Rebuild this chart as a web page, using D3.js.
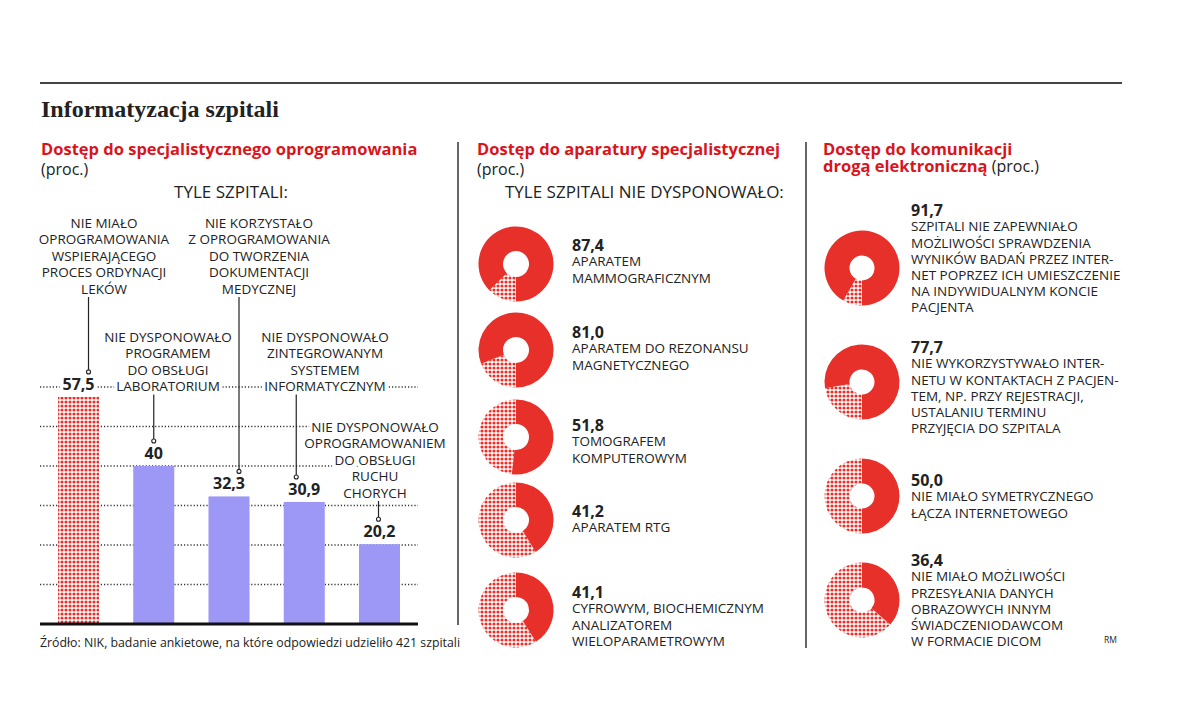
<!DOCTYPE html>
<html>
<head>
<meta charset="utf-8">
<script src="https://cdn.jsdelivr.net/npm/d3@7"></script>
<style>
    body { margin: 0; background: #fff; }
    text { font-family: "Open Sans", sans-serif; fill: #222; }
</style>
</head>
<body>
<div id="chart"></div>
<script>
const width = 1200;
const height = 720;

// bar chart: software
const barValues = [57.5, 40, 32.3, 30.9, 20.2];
const barLabels = ["57,5", "40", "32,3", "30,9", "20,2"];
const barNotes = [
    ["NIE MIAŁO", "OPROGRAMOWANIA", "WSPIERAJĄCEGO", "PROCES ORDYNACJI", "LEKÓW"],
    ["NIE DYSPONOWAŁO", "PROGRAMEM", "DO OBSŁUGI", "LABORATORIUM"],
    ["NIE KORZYSTAŁO", "Z OPROGRAMOWANIA", "DO TWORZENIA", "DOKUMENTACJI", "MEDYCZNEJ"],
    ["NIE DYSPONOWAŁO", "ZINTEGROWANYM", "SYSTEMEM", "INFORMATYCZNYM"],
    ["NIE DYSPONOWAŁO", "OPROGRAMOWANIEM", "DO OBSŁUGI", "RUCHU", "CHORYCH"]
];
const gridTicks = [10, 20, 30, 40, 50, 60];

// donuts: equipment
const equipValues = [87.4, 81.0, 51.8, 41.2, 41.1];
const equipLabels = [
    ["APARATEM", "MAMMOGRAFICZNYM"],
    ["APARATEM DO REZONANSU", "MAGNETYCZNEGO"],
    ["TOMOGRAFEM", "KOMPUTEROWYM"],
    ["APARATEM RTG"],
    ["CYFROWYM, BIOCHEMICZNYM", "ANALIZATOREM", "WIELOPARAMETROWYM"]
];

// donuts: electronic communication
const commValues = [91.7, 77.7, 50.0, 36.4];
const commLabels = [
    ["SZPITALI NIE ZAPEWNIAŁO", "MOŻLIWOŚCI SPRAWDZENIA", "WYNIKÓW BADAŃ PRZEZ INTER-", "NET POPRZEZ ICH UMIESZCZENIE", "NA INDYWIDUALNYM KONCIE", "PACJENTA"],
    ["NIE WYKORZYSTYWAŁO INTER-", "NETU W KONTAKTACH Z PACJEN-", "TEM, NP. PRZY REJESTRACJI,", "USTALANIU TERMINU", "PRZYJĘCIA DO SZPITALA"],
    ["NIE MIAŁO SYMETRYCZNEGO", "ŁĄCZA INTERNETOWEGO"],
    ["NIE MIAŁO MOŻLIWOŚCI", "PRZESYŁANIA DANYCH", "OBRAZOWYCH INNYM", "ŚWIADCZENIODAWCOM", "W FORMACIE DICOM"]
];

const red = "#e8302a";
const titleRed = "#d9151b";
const purple = "#9d97f5";
const ink = "#222";

// layout of the annotation blocks (centre x, first row y, leader offset from bar centre)
const noteLayout = [
    { cx: 104, top: 223, dx: 10 },
    { cx: 168, top: 337, dx: 0 },
    { cx: 259, top: 223, dx: 10 },
    { cx: 325, top: 337, dx: -8 },
    { cx: 375, top: 427, dx: -1 }
];

const svg = d3.select("#chart")
    .append("svg")
    .attr("width", width)
    .attr("height", height);

const defs = svg.append("defs");
const pat = defs.append("pattern")
    .attr("id", "dots")
    .attr("patternUnits", "userSpaceOnUse")
    .attr("width", 4)
    .attr("height", 4);
pat.append("rect").attr("width", 4).attr("height", 4).attr("fill", "#fff");
pat.append("circle").attr("cx", 2).attr("cy", 2).attr("r", 1.6).attr("fill", red);

// header
svg.append("line")
    .attr("x1", 40).attr("x2", 1122)
    .attr("y1", 83).attr("y2", 83)
    .attr("stroke", "#444").attr("stroke-width", 2);

svg.append("text")
    .attr("x", 41).attr("y", 117)
    .style("font-family", "'Liberation Serif', serif")
    .style("font-weight", "bold")
    .style("font-size", "24px")
    .text("Informatyzacja szpitali");

// column dividers
svg.append("line").attr("x1", 458).attr("x2", 458).attr("y1", 142).attr("y2", 625)
    .attr("stroke", "#333").attr("stroke-width", 1.5);
svg.append("line").attr("x1", 806).attr("x2", 806).attr("y1", 142).attr("y2", 648)
    .attr("stroke", "#333").attr("stroke-width", 1.5);

function subtitle(x, y, txt) {
    svg.append("text").attr("x", x).attr("y", y)
        .style("font-weight", "bold").style("font-size", "16.5px")
        .style("fill", titleRed).text(txt);
}

// ---- left column: bar chart
subtitle(41, 155, "Dostęp do specjalistycznego oprogramowania");
svg.append("text").attr("x", 41).attr("y", 175).style("font-size", "16px").text("(proc.)");
svg.append("text").attr("x", 231).attr("y", 198).attr("text-anchor", "middle")
    .style("font-size", "17px").text("TYLE SZPITALI:");

const x = d3.scaleBand()
    .domain(d3.range(barValues.length))
    .range([58, 400])
    .paddingInner(0.455)
    .paddingOuter(0);

const y = d3.scaleLinear()
    .domain([0, 60])
    .range([624, 387]);

const bars = svg.append("g");

bars.append("g")
    .selectAll("line")
    .data(gridTicks)
    .join("line")
    .attr("x1", 40).attr("x2", 418)
    .attr("y1", d => y(d)).attr("y2", d => y(d))
    .attr("stroke", "#333")
    .attr("stroke-width", 1.3)
    .attr("stroke-dasharray", "1.2 2");

bars.append("g")
    .selectAll("rect")
    .data(barValues)
    .join("rect")
    .attr("x", (d, i) => x(i))
    .attr("width", x.bandwidth())
    .attr("y", d => y(d))
    .attr("height", d => y(0) - y(d))
    .attr("fill", (d, i) => i === 0 ? "url(#dots)" : purple);

bars.append("line")
    .attr("x1", 40).attr("x2", 418)
    .attr("y1", y(0)).attr("y2", y(0))
    .attr("stroke", "#111").attr("stroke-width", 3);

// annotation blocks (white halo cuts gridlines)
barNotes.forEach((lines, i) => {
    const lay = noteLayout[i];
    bars.append("text")
        .attr("text-anchor", "middle")
        .style("font-size", "13.5px")
        .style("stroke", "#fff").style("stroke-width", 7)
        .style("paint-order", "stroke")
        .selectAll("tspan")
        .data(lines)
        .join("tspan")
        .attr("x", lay.cx)
        .attr("y", (d, j) => lay.top + j * 16.5 + 4.8)
        .text(d => d);
});

// value labels
bars.append("g")
    .selectAll("text")
    .data(barValues)
    .join("text")
    .attr("x", (d, i) => x(i) + x.bandwidth() / 2)
    .attr("y", d => y(d) - 7)
    .attr("text-anchor", "middle")
    .style("font-weight", "bold")
    .style("font-size", "16px")
    .style("stroke", "#fff").style("stroke-width", 7)
    .style("paint-order", "stroke")
    .text((d, i) => barLabels[i]);

// leaders
barNotes.forEach((lines, i) => {
    const lay = noteLayout[i];
    const lx = x(i) + x.bandwidth() / 2 + lay.dx;
    const y1 = lay.top + (lines.length - 1) * 16.5 + 8;
    const y2 = y(barValues[i]) - 25;
    bars.append("line")
        .attr("x1", lx).attr("x2", lx)
        .attr("y1", y1).attr("y2", y2 - 2)
        .attr("stroke", ink).attr("stroke-width", 1.2);
    bars.append("circle")
        .attr("cx", lx).attr("cy", y2)
        .attr("r", 2)
        .attr("fill", "#fff")
        .attr("stroke", ink).attr("stroke-width", 1.1);
});

svg.append("text").attr("x", 40).attr("y", 647)
    .style("font-size", "12.3px")
    .text("Źródło: NIK, badanie ankietowe, na które odpowiedzi udzieliło 421 szpitali");

// ---- donuts
const fmt = v => d3.format(".1f")(v).replace(".", ",");

function donutAngles(v) {
    const a = v / 100 * 2 * Math.PI;
    // large shares end at the bottom, small ones start at the top
    if (v > 60) return { s: Math.PI - a, e: Math.PI };
    return { s: 0, e: a };
}

function drawDonuts(values, labels, cx, tx, donutY, textY, rOut, rIn) {
    const arc = d3.arc().innerRadius(rIn).outerRadius(rOut);
    const g = svg.append("g");
    values.forEach((v, i) => {
        const ang = donutAngles(v);
        const dg = g.append("g").attr("transform", `translate(${cx},${donutY[i]})`);
        dg.append("path")
            .attr("d", arc({ startAngle: ang.e, endAngle: ang.s + 2 * Math.PI }))
            .attr("fill", "url(#dots)");
        dg.append("path")
            .attr("d", arc({ startAngle: ang.s, endAngle: ang.e }))
            .attr("fill", red);

        g.append("text")
            .attr("x", tx).attr("y", textY[i] + 6)
            .style("font-weight", "bold").style("font-size", "16px")
            .text(fmt(v));
        g.append("text")
            .style("font-size", "13.5px")
            .selectAll("tspan")
            .data(labels[i])
            .join("tspan")
            .attr("x", tx)
            .attr("y", (d, j) => textY[i] + 16.5 + j * 16.2 + 4.8)
            .text(d => d);
    });
}

// ---- middle column
subtitle(477, 155, "Dostęp do aparatury specjalistycznej");
svg.append("text").attr("x", 477).attr("y", 175).style("font-size", "16px").text("(proc.)");
svg.append("text").attr("x", 505).attr("y", 198)
    .style("font-size", "17px").text("TYLE SZPITALI NIE DYSPONOWAŁO:");

drawDonuts(equipValues, equipLabels, 516, 572,
    [264, 350, 437, 520, 610], [245, 332, 425, 511, 592], 37.5, 13);

// ---- right column
subtitle(823, 155, "Dostęp do komunikacji");
const t2 = svg.append("text").attr("x", 823).attr("y", 172);
t2.append("tspan").style("font-weight", "bold").style("font-size", "16.5px")
    .style("fill", titleRed).text("drogą elektroniczną");
t2.append("tspan").style("font-size", "16px").text(" (proc.)");

drawDonuts(commValues, commLabels, 862, 911,
    [268, 382, 496, 600], [210, 347, 480, 560], 37.5, 12.5);

svg.append("text").attr("x", 1104).attr("y", 643)
    .style("font-size", "8.5px").text("RM");
</script>
</body>
</html>
